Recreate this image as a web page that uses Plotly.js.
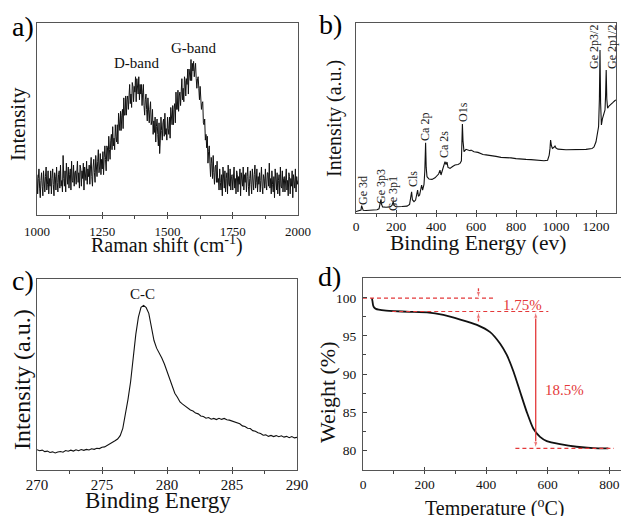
<!DOCTYPE html>
<html><head><meta charset="utf-8">
<script src="https://cdn.plot.ly/plotly-3.0.1.min.js"></script>
<style>html,body{margin:0;padding:0;background:#fff}#chart{width:621px;height:516px}</style>
</head><body><div id="chart"></div>
<script>
// ---- (a) Raman spectrum, sampled every 2.5 cm-1 from 1000 ----
const ramanStart = 1000, ramanStep = 2.5;
const ramanY = [
21,11,19,24,14,9,18,22,15,10,23,17,12,20,25,13,16,23,11,19,
15,23,11,19,24,16,10,22,20,13,25,17,12,21,23,14,26,15,18,12,
31,19,15,23,12,27,22,16,25,14,21,24,13,28,18,17,26,15,22,23,
16,23,28,17,22,14,26,24,15,23,19,27,13,25,22,18,28,16,24,20,
26,16,25,30,20,15,25,29,22,17,31,25,20,28,34,22,25,32,21,29,
24,33,21,30,36,29,23,36,35,28,41,34,29,39,42,34,46,36,40,34,
47,41,38,47,37,53,49,44,54,44,52,55,45,61,52,52,62,52,60,62,
55,63,68,58,63,56,69,67,59,67,64,72,59,71,67,63,72,60,68,63,
68,57,64,68,57,52,60,63,55,49,61,54,48,55,59,47,49,55,42,49,
43,51,38,46,50,42,36,48,32,39,51,44,39,48,50,41,53,42,45,39,
51,45,42,51,40,56,52,47,57,47,55,58,48,64,55,55,65,54,62,64,
57,65,71,60,66,59,72,70,62,71,68,76,63,76,74,70,81,70,79,75,
80,72,76,79,71,66,71,72,66,60,67,60,55,58,59,48,47,50,39,42,
35,41,27,33,36,27,20,30,27,19,31,22,16,25,26,17,28,17,19,13,
24,17,13,21,10,25,20,14,23,12,19,22,11,26,16,15,24,13,20,21,
13,20,25,14,19,11,23,21,12,20,16,24,10,22,19,15,25,13,21,17,
22,12,20,25,15,10,19,23,16,11,24,18,13,21,26,14,17,24,12,20,
16,22,12,18,25,15,11,21,19,14,24,16,13,22,22,15,27,14,19,11,
23,16,12,20,9,24,19,13,22,11,18,21,10,25,15,14,23,12,19,20,
12,19,24,13,18,10,22,20,11,19,15,23,9,21,18,14,24,12,20,16,
18
];
const ramanLabels = ['D-band','G-band'];
const ramanLabelX = [1380, 1600];
const ramanLabelY = [79, 87];

// ---- (b) XPS survey ----
const surveyX = [0,10,20,25,28,31,36,50,70,90,105,115,120,125,128,133,150,170,180,186,190,200,230,255,268,274,278,282,290,298,304,308,312,318,324,328,333,340,344,348,351,355,365,380,395,405,413,420,425,432,440,445,450,455,460,470,483,495,510,520,527,530,532,535,540,550,560,570,575,590,610,620,635,650,680,700,725,750,775,800,825,850,875,900,920,940,958,966,970,973,977,982,990,995,1000,1010,1050,1100,1150,1180,1190,1200,1208,1213,1217,1220,1223,1227,1232,1240,1245,1248,1251,1254,1258,1265,1275,1285,1295,1300];
const surveyY = [0.8,1.0,1.1,1.5,3.9,2.2,1.4,1.3,1.4,1.5,1.7,2.2,4.0,7.2,4.5,3.2,3.0,3.2,4.0,6.0,4.0,3.3,3.4,3.6,4.5,7.5,11.2,7.0,6.0,6.8,10.0,12.1,8.8,9.5,12.5,14.7,12.0,15.0,22,37,24,19.1,17.9,17.7,18.5,19.5,20.5,22.6,20.0,22.5,25.0,27.0,25.5,26.8,24.0,23.5,24.5,25.3,25.5,26.1,27.5,38,46.8,38,32.3,33.5,33.2,32.8,33.1,32.2,31.9,31.3,30.8,30.6,30.3,29.8,29.3,29.2,29.0,28.6,28.3,28.2,28.1,27.9,27.6,27.5,27.8,30.5,34,38.4,35.5,34.0,34.6,35.3,34.2,33.6,33.3,33.3,33.5,33.9,34.8,37.5,41.5,45.5,60,85.8,58,46.3,49.5,53.0,54.2,62,75.3,60,55.1,56.3,57.5,58.2,59.2,59.5];
const surveyLabels = ['Ge 3d','Ge 3p3','Ge 3p1','Cls','Ca 2p','Ca 2s','O1s','Ge 2p3/2','Ge 2p1/2'];
const surveyLabelX = [35,125,185,285,345,440,535,1190,1280];
const surveyLabelY = [11.6,13.7,10,17.9,45.3,35.8,53.2,87.4,87.4];

// ---- (c) C 1s, sampled every 0.2 eV from 270 ----
const c1sStart = 270, c1sStep = 0.2;
const c1sY = [
10.6,10.1,10.4,9.6,9.9,9.2,9.5,8.9,9.4,9.7,
9.3,10.2,9.8,10.4,9.9,10.6,10.1,10.7,10.3,10.8,
10.5,11.1,10.8,11.4,11.2,11.9,12.1,12.8,13.5,14.6,
15.3,16.2,18.0,21.8,28.5,37,46.2,60.2,71,80,
85.2,86.2,85,82,74.2,67.8,63.8,61.4,58.6,55.5,
51.6,47.9,44.2,40.2,38.1,35.6,34.5,33.4,32.6,31.4,
30.9,29.8,29.4,28.3,28.0,27.1,27.5,26.6,27.0,26.4,
27.1,26.5,27.0,26.3,26.1,25.6,25.4,24.5,24.2,23.1,
22.8,21.9,21.7,20.6,20.3,19.5,19.1,18.2,18.4,17.6,
18.1,17.5,18.0,17.4,17.9,17.2,17.6,16.9,17.5,16.8,
17.1
];
const c1sLabel = 'C-C', c1sLabelX = 278.1, c1sLabelY = 92;

// ---- (d) TGA ----
const tgaT = [29,31,33,36,42,51,75,99,153,208,261,316,370,413,445,467,489,510,532,553,575,597,640,694,748,797];
const tgaW = [99.95,99.5,99.0,98.75,98.55,98.45,98.32,98.25,98.16,98.08,97.75,97.15,96.45,95.5,94.0,92.5,90.3,87.7,85.0,82.85,81.75,81.2,80.8,80.45,80.28,80.25];
const tgaLevels = [99.95, 98.2, 80.25];
const tgaLevelFrom = [0, 95, 495];
const tgaLevelTo = [425, 602, 815];
const lossSmall = '1.75%', lossLarge = '18.5%';
const smallArrowT = 375, largeArrowT = 561;

// ---- axis titles ----
const axisTitles = ['Raman shift (cm<sup>-1</sup>)', 'Intensity', 'Binding Energy (ev)', 'Intensity (a.u.)',
                    'Binding Energy', 'Intensity (a.u.)', 'Temperature (<sup>o</sup>C)', 'Weight (%)'];

// ---------------- drawing ----------------
const FONT = 'Liberation Serif';
const RED = '#e4393a';
const W = 621, H = 516;
const px = (l, r) => [l / W, r / W];
const py = (t, b) => [1 - b / H, 1 - t / H];

const ramanX = ramanY.map((_, i) => ramanStart + ramanStep * i);
const c1sX = c1sY.map((_, i) => +(c1sStart + c1sStep * i).toFixed(2));

const traces = [
  {x: ramanX, y: ramanY, xaxis: 'x', yaxis: 'y', mode: 'lines', line: {color: '#111', width: 1}},
  {x: surveyX, y: surveyY, xaxis: 'x2', yaxis: 'y2', mode: 'lines', line: {color: '#111', width: 1.1}},
  {x: c1sX, y: c1sY, xaxis: 'x3', yaxis: 'y3', mode: 'lines', line: {color: '#111', width: 1.1}},
  {x: tgaT, y: tgaW, xaxis: 'x4', yaxis: 'y4', mode: 'lines', line: {color: '#111', width: 1.8, shape: 'spline', smoothing: 0.6}}
];
tgaLevels.forEach((lv, i) => traces.push({
  x: [tgaLevelFrom[i], tgaLevelTo[i]], y: [lv, lv], xaxis: 'x4', yaxis: 'y4', mode: 'lines',
  line: {color: RED, width: 1.2, dash: '4px,3px'}
}));
function arrowTrace(x, y0, y1) {
  return {x: [x, x], y: [y0, y1], xaxis: 'x4', yaxis: 'y4', mode: 'lines+markers',
    line: {color: RED, width: 1.3},
    marker: {symbol: 'arrow', angleref: 'previous', size: [0, 7], color: RED}};
}
traces.push(arrowTrace(smallArrowT, tgaLevels[0] + 1.3, tgaLevels[0]));
traces.push(arrowTrace(smallArrowT, tgaLevels[1] - 1.3, tgaLevels[1]));
const mid = (tgaLevels[1] + tgaLevels[2]) / 2;
traces.push(arrowTrace(largeArrowT, mid, tgaLevels[1]));
traces.push(arrowTrace(largeArrowT, mid, tgaLevels[2]));

function xax(domain, anchor, range, dtick, minor, fs, standoff) {
  return {domain, anchor, range, dtick, tick0: range[0] < 100 ? 0 : range[0], ticks: 'inside', ticklen: 3, tickcolor: '#444',
    minor: {ticks: 'outside', ticklen: 3, dtick: minor, tickcolor: '#444'}, ticklabelstandoff: standoff,
    showline: true, mirror: true, linecolor: '#555', linewidth: 1, showgrid: false, zeroline: false,
    tickfont: {family: FONT, size: fs, color: '#111'}};
}
function yax(domain, anchor, range) {
  return {domain, anchor, range, showticklabels: false, ticks: '', showline: true, mirror: true,
    linecolor: '#555', linewidth: 1, showgrid: false, zeroline: false};
}

const layout = {
  width: W, height: H, margin: {l: 0, r: 0, t: 0, b: 0}, showlegend: false,
  paper_bgcolor: '#fff', plot_bgcolor: '#fff', font: {family: FONT},
  xaxis: xax(px(37, 298), 'y', [1000, 2000], 250, 125, 13, 4),
  yaxis: yax(py(23, 215), 'x', [0, 100]),
  xaxis2: xax(px(356, 616), 'y2', [0, 1300], 200, 100, 13.5, 1),
  yaxis2: yax(py(23, 213), 'x2', [0, 100]),
  xaxis3: xax(px(37, 297), 'y3', [270, 290], 5, 2.5, 15, 1),
  yaxis3: yax(py(279, 470), 'x3', [0, 100]),
  xaxis4: Object.assign(xax(px(363, 621), 'y4', [0, 838], 200, 100, 13.5, 2), {mirror: true}),
  yaxis4: {domain: py(278, 470), anchor: 'x4', range: [77.4, 102.6], dtick: 5, ticks: 'inside', ticklen: 4, tickcolor: '#444',
    minor: {ticks: 'inside', ticklen: 2.5, dtick: 2.5, tickcolor: '#444'}, ticklabelstandoff: 3,
    showline: true, mirror: false, linecolor: '#555', linewidth: 1, showgrid: false, zeroline: false,
    tickfont: {family: FONT, size: 13.5, color: '#111'}},
  annotations: []
};

const A = layout.annotations;
// axis titles: [text index, centre x px, centre y px, size, angle]
[[0, 167, 245, 20, 0], [1, 18, 124, 21, -90], [2, 478, 243, 21.5, 0], [3, 335, 118, 20, -90],
 [4, 158, 500, 23, 0], [5, 22, 380, 24, -90], [6, 494, 507, 20, 0], [7, 327, 393, 22, -90]]
 .forEach(([k, x, y, s, a]) => A.push({text: axisTitles[k], xref: 'paper', yref: 'paper', x: x / W, y: 1 - y / H,
   xanchor: 'center', yanchor: 'middle', textangle: a, showarrow: false, font: {family: FONT, size: s, color: '#111'}}));
[['a)', 23, 27], ['b)', 330, 25], ['c)', 23, 280], ['d)', 329, 276]].forEach(([t, x, y]) => A.push({
  text: t, xref: 'paper', yref: 'paper', x: x / W, y: 1 - y / H, xanchor: 'center', yanchor: 'middle',
  showarrow: false, font: {family: FONT, size: 28, color: '#000'}
}));
ramanLabels.forEach((t, i) => A.push({text: t, xref: 'x', yref: 'y', x: ramanLabelX[i], y: ramanLabelY[i],
  showarrow: false, font: {family: FONT, size: 15, color: '#111'}}));
surveyLabels.forEach((t, i) => A.push({text: t, xref: 'x2', yref: 'y2', x: surveyLabelX[i], y: surveyLabelY[i],
  textangle: -90, showarrow: false, font: {family: FONT, size: 12, color: '#222'}}));
A.push({text: c1sLabel, xref: 'x3', yref: 'y3', x: c1sLabelX, y: c1sLabelY, showarrow: false, font: {family: FONT, size: 15, color: '#111'}});
A.push({text: lossSmall, xref: 'x4', yref: 'y4', x: 518, y: 99.1, showarrow: false, font: {family: FONT, size: 15, color: RED}});
A.push({text: lossLarge, xref: 'x4', yref: 'y4', x: 653, y: 87.9, showarrow: false, font: {family: FONT, size: 15, color: RED}});

Plotly.newPlot('chart', traces, layout, {staticPlot: true, displayModeBar: false});
</script></body></html>
